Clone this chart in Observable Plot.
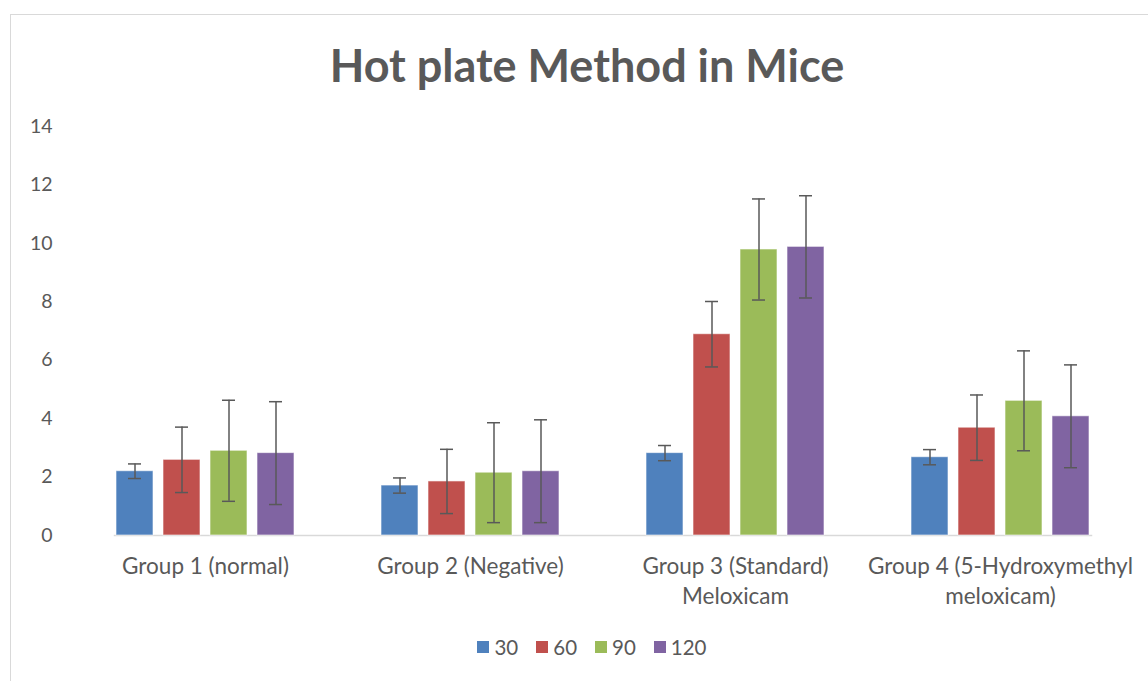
<!DOCTYPE html>
<html>
<head>
<meta charset="utf-8">
<script src="https://cdn.jsdelivr.net/npm/d3@7"></script>
<script src="https://cdn.jsdelivr.net/npm/@observablehq/plot@0.6"></script>
<style>
  html, body { margin: 0; padding: 0; background: #fff; }
  #wrap { position: relative; width: 1148px; height: 681px; overflow: hidden; font-family: Lato, "Open Sans", sans-serif; }
  #frame { position: absolute; left: 10px; top: 14px; width: 1200px; height: 700px; border-left: 1.5px solid #d9d9d9; border-top: 1.5px solid #d9d9d9; }
  #title { position: absolute; left: 0; width: 1174px; top: 38px; text-align: center; font-size: 45px; font-weight: bold; color: #595959; line-height: 54px; }
  #chart { position: absolute; left: 0; top: 0; }
  #legend { position: absolute; top: 635px; left: 0; width: 1184px; display: flex; justify-content: center; gap: 18px; font-size: 20.5px; color: #595959; }
  .item { display: flex; align-items: center; gap: 5px; }
  .sw { width: 12px; height: 12px; display: inline-block; }
</style>
</head>
<body>
<div id="wrap">
  <div id="frame"></div>
  <div id="title">Hot plate Method in Mice</div>
  <div id="chart"></div>
  <div id="legend"></div>
</div>
<script>
const groups = ["Group 1 (normal)", "Group 2 (Negative)", "Group 3 (Standard)\nMeloxicam", "Group 4 (5-Hydroxymethyl\nmeloxicam)"];
const series = ["30", "60", "90", "120"];
const colors = ["#4F81BD", "#C0504D", "#9BBB59", "#8064A2"];
// values[series][group]
const v30  = [2.20, 1.71, 2.82, 2.68];
const v60  = [2.59, 1.85, 6.89, 3.69];
const v90  = [2.90, 2.15, 9.79, 4.61];
const v120 = [2.82, 2.20, 9.88, 4.08];
const e30  = [0.25, 0.26, 0.26, 0.26];
const e60  = [1.12, 1.10, 1.12, 1.12];
const e90  = [1.73, 1.71, 1.73, 1.71];
const e120 = [1.76, 1.76, 1.75, 1.76];
const yTicks = [0, 2, 4, 6, 8, 10, 12, 14];

const vals = [v30, v60, v90, v120];
const errs = [e30, e60, e90, e120];
const data = [];
groups.forEach((g, gi) => series.forEach((s, si) => {
  data.push({group: g, series: s, value: vals[si][gi], err: errs[si][gi]});
}));

const chart = Plot.plot({
  width: 1148,
  height: 681,
  marginTop: 126,
  marginBottom: 146,
  marginLeft: 73,
  marginRight: 15,
  style: {fontFamily: "Lato, 'Open Sans', sans-serif", background: "transparent", color: "#595959"},
  fx: {domain: groups, paddingInner: 0.313, paddingOuter: 0.1565, label: null},
  x: {domain: series, paddingInner: 0.208, paddingOuter: 0, axis: null},
  y: {domain: [0, 14], ticks: yTicks, label: null},
  color: {domain: series, range: colors},
  marks: [
    Plot.axisY({ticks: yTicks, tickSize: 0, tickPadding: 62, fontSize: 19.5, label: null, fill: "#595959"}),
    Plot.axisFx({anchor: "bottom", tickSize: 0, tickPadding: 17, fontSize: 22.5, lineHeight: 1.33, label: null, fill: "#595959"}),
    Plot.frame({anchor: "bottom", facet: "super", stroke: "#d9d9d9", strokeWidth: 1.5}),
    Plot.barY(data, {fx: "group", x: "series", y: "value", fill: "series", stroke: "#ffffff", strokeOpacity: 0.6, strokeWidth: 1}),
    Plot.ruleX(data, {fx: "group", x: "series", y1: d => d.value - d.err, y2: d => d.value + d.err, stroke: "#595959", strokeWidth: 1.5}),
    Plot.tickY(data, {fx: "group", x: "series", y: d => d.value + d.err, stroke: "#595959", strokeWidth: 1.5, insetLeft: 12, insetRight: 12}),
    Plot.tickY(data, {fx: "group", x: "series", y: d => d.value - d.err, stroke: "#595959", strokeWidth: 1.5, insetLeft: 12, insetRight: 12})
  ]
});
document.getElementById("chart").appendChild(chart);

const legend = document.getElementById("legend");
series.forEach((s, i) => {
  const item = document.createElement("div");
  item.className = "item";
  item.innerHTML = `<span class="sw" style="background:${colors[i]}"></span><span>${s}</span>`;
  legend.appendChild(item);
});
</script>
</body>
</html>
